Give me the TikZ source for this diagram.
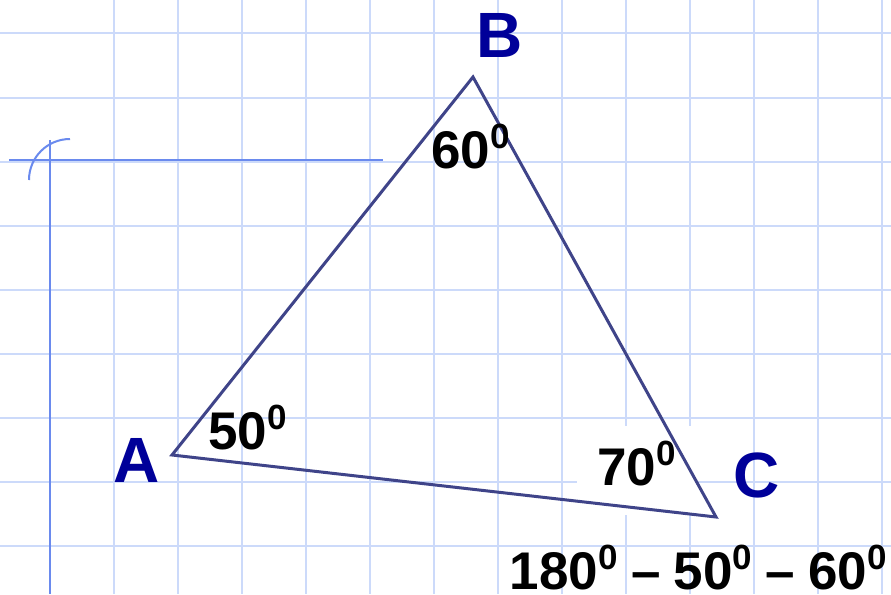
\documentclass[tikz,border=0pt]{standalone}
\usepackage{fontspec}
\setmainfont{Liberation Sans}
\usepackage{tikz}
\usepackage{xcolor}
\definecolor{GridBlue}{HTML}{CCDAFA}
\definecolor{MarginBlue}{HTML}{6A8AEE}
\definecolor{SideNavy}{HTML}{3F4489}
\definecolor{LabelBlue}{HTML}{000099}
\newcommand{\degz}{\raisebox{20pt}{\fontsize{35pt}{35pt}\selectfont 0}}

\begin{document}
\begin{tikzpicture}[
    x=1pt,y=1pt,
    gridline/.style={draw=GridBlue,line width=2pt},
    margin/.style={draw=MarginBlue,line width=2pt},
    side/.style={draw=SideNavy,line width=3pt,line join=miter},
    vlabel/.style={text=LabelBlue,inner sep=0pt,
      font=\fontsize{64pt}{64pt}\selectfont\bfseries},
    alabel/.style={inner sep=0pt,font=\fontsize{53pt}{53pt}\selectfont\bfseries}
  ]
    \useasboundingbox (0,0) rectangle (891,-594);
    \fill[white] (0,0) rectangle (891,-594);
    % squared paper
    \foreach \x in {114,178,...,882} \draw[gridline] (\x,0) -- (\x,-594);
    \foreach \y in {33.5,97.5,...,545.5} \draw[gridline] (0,-\y) -- (891,-\y);
    \draw[margin] (9,-160) -- (383,-160);
    \draw[margin] (50,-140) -- (50,-594);
    \draw[margin] (29,-180) arc[start angle=180,end angle=90,radius=41];
    \node[alabel,fill=white,inner xsep=20pt,inner ysep=15pt,text depth=15pt,
      anchor=base west] (ang70) at (577,-485) {70\degz};
    % triangle
    \coordinate (A) at (172,-455);
    \coordinate (B) at (473,-77);
    \coordinate (C) at (716,-517);
    \draw[side] (A) -- (B) -- (C) -- cycle;
    \node[vlabel,anchor=base] (labA) at (136.5,-482) {A};
    \node[vlabel,anchor=base] (labB) at (499.5,-57) {B};
    \node[vlabel,anchor=base] (labC) at (756.5,-497) {C};
    \node[alabel,anchor=base west] (ang50) at (208,-449) {50\degz};
    \node[alabel,anchor=base west] (ang60) at (431,-168) {60\degz};
    \node[alabel,anchor=base east] (sum) at (887,-589)
      {180\degz\hspace{13.3pt}--\hspace{13.3pt}50\degz\hspace{13.3pt}--\hspace{13.3pt}60\degz};
  \end{tikzpicture}
\end{document}
